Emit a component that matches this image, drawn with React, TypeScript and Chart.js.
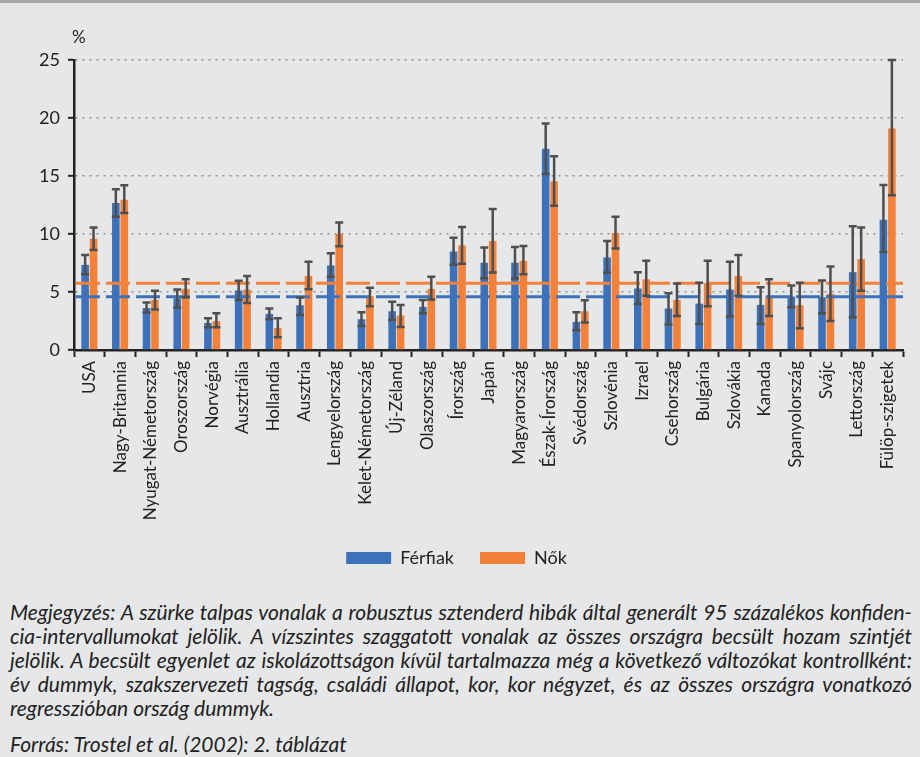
import React, { useEffect, useRef } from 'react';
import { Chart, registerables } from 'chart.js';

Chart.register(...registerables);

const categories = [
  'USA', 'Nagy-Britannia', 'Nyugat-Németország', 'Oroszország', 'Norvégia', 'Ausztrália',
  'Hollandia', 'Ausztria', 'Lengyelország', 'Kelet-Németország', 'Új-Zéland', 'Olaszország',
  'Írország', 'Japán', 'Magyarország', 'Észak-Írország', 'Svédország', 'Szlovénia', 'Izrael',
  'Csehország', 'Bulgária', 'Szlovákia', 'Kanada', 'Spanyolország', 'Svájc', 'Lettország',
  'Fülöp-szigetek',
];

const menValues = [7.34, 12.67, 3.63, 4.46, 2.33, 5.13, 3.11, 3.86, 7.29, 2.65, 3.34, 3.72, 8.5, 7.52, 7.52, 17.34, 2.42, 7.98, 5.3, 3.57, 4.0, 5.21, 3.89, 4.61, 4.55, 6.71, 11.23];
const menLow = [6.54, 11.49, 3.23, 3.66, 1.96, 4.32, 2.65, 3.02, 6.31, 2.07, 2.59, 3.17, 7.34, 6.19, 6.16, 15.18, 1.7, 6.65, 3.97, 2.19, 2.25, 2.88, 2.25, 3.69, 3.17, 2.82, 8.44];
const menHigh = [8.2, 13.85, 4.09, 5.21, 2.74, 5.96, 3.57, 4.52, 8.35, 3.25, 4.15, 4.32, 9.68, 8.84, 8.87, 19.53, 3.25, 9.39, 6.71, 4.9, 5.79, 7.6, 5.41, 5.56, 5.99, 10.66, 14.23];

const womenValues = [9.6, 12.96, 4.32, 5.27, 2.5, 5.21, 1.9, 6.39, 9.99, 4.64, 2.97, 5.27, 9.01, 9.39, 7.69, 14.54, 3.34, 10.08, 6.1, 4.32, 5.76, 6.39, 4.61, 3.86, 4.84, 7.83, 19.1];
const womenLow = [8.61, 11.8, 3.49, 4.55, 1.96, 4.06, 1.09, 5.24, 8.95, 3.77, 1.99, 4.35, 7.43, 6.68, 6.54, 12.44, 2.36, 8.76, 4.67, 2.94, 3.77, 4.67, 2.94, 1.87, 2.51, 5.1, 13.34];
const womenHigh = [10.57, 14.2, 5.1, 6.1, 3.17, 6.39, 2.74, 7.6, 11.0, 5.36, 3.89, 6.31, 10.6, 12.15, 8.96, 16.7, 4.29, 11.49, 7.69, 5.73, 7.69, 8.2, 6.1, 5.79, 7.2, 10.57, 25.0];

const seriesNames = ['Férfiak', 'Nők'];
const allCountryAverages = [4.6, 5.75];

const yMin = 0;
const yMax = 25;
const yStep = 5;
const unitLabel = '%';

const noteLines = [
  'Megjegyzés: A szürke talpas vonalak a robusztus sztenderd hibák által generált 95 százalékos konfiden-',
  'cia-intervallumokat jelölik. A vízszintes szaggatott vonalak az összes országra becsült hozam szintjét',
  'jelölik. A becsült egyenlet az iskolázottságon kívül tartalmazza még a következő változókat kontrollként:',
  'év dummyk, szakszervezeti tagság, családi állapot, kor, kor négyzet, és az összes országra vonatkozó',
];
const noteLast = 'regresszióban ország dummyk.';
const sourceLine = 'Forrás: Trostel et al. (2002): 2. táblázat';

const BLUE = '#3d72bb';
const ORANGE = '#f3813a';
const FONT = 'Lato, "Open Sans", sans-serif';

const lows = [menLow, womenLow];
const highs = [menHigh, womenHigh];
const lineColors = [BLUE, ORANGE];

const overlayPlugin = {
  id: 'overlay',
  afterDatasetsDraw(chart: any) {
    const ctx = chart.ctx;
    const y = chart.scales.y;
    const area = chart.chartArea;
    ctx.save();
    allCountryAverages.forEach((v, i) => {
      const py = y.getPixelForValue(v);
      ctx.beginPath();
      ctx.setLineDash([24, 6]);
      ctx.lineWidth = 3;
      ctx.strokeStyle = lineColors[i];
      ctx.moveTo(area.left + 2, py);
      ctx.lineTo(area.right, py);
      ctx.stroke();
    });
    ctx.setLineDash([]);
    ctx.strokeStyle = '#4f4f4f';
    ctx.lineWidth = 2.5;
    [0, 1].forEach((di) => {
      const meta = chart.getDatasetMeta(di);
      meta.data.forEach((bar: any, j: number) => {
        const x = bar.x;
        const yl = y.getPixelForValue(lows[di][j]);
        const yh = y.getPixelForValue(highs[di][j]);
        ctx.beginPath();
        ctx.moveTo(x, yl);
        ctx.lineTo(x, yh);
        ctx.moveTo(x - 4, yl);
        ctx.lineTo(x + 4, yl);
        ctx.moveTo(x - 4, yh);
        ctx.lineTo(x + 4, yh);
        ctx.stroke();
      });
    });
    ctx.restore();
  },
  afterDraw(chart: any) {
    const ctx = chart.ctx;
    const area = chart.chartArea;
    ctx.save();
    ctx.fillStyle = '#222';
    ctx.font = '17px ' + FONT;
    ctx.textAlign = 'left';
    ctx.textBaseline = 'middle';
    ctx.fillText(unitLabel, area.left - 2, area.top - 22);
    ctx.restore();
  },
};

export default function App() {
  const canvasRef = useRef<HTMLCanvasElement | null>(null);

  useEffect(() => {
    if (!canvasRef.current) return;
    const chart = new Chart(canvasRef.current, {
      type: 'bar',
      data: {
        labels: categories,
        datasets: [
          {
            label: seriesNames[0],
            data: menValues,
            backgroundColor: BLUE,
            borderWidth: 0,
            categoryPercentage: 0.55,
            barPercentage: 0.9,
          },
          {
            label: seriesNames[1],
            data: womenValues,
            backgroundColor: ORANGE,
            borderWidth: 0,
            categoryPercentage: 0.55,
            barPercentage: 0.9,
          },
        ],
      },
      options: {
        responsive: false,
        animation: false,
        devicePixelRatio: 1,
        layout: { padding: { top: 57, left: 10, right: 17, bottom: 16 } },
        plugins: {
          legend: {
            position: 'bottom',
            labels: {
              boxWidth: 45,
              boxHeight: 12,
              padding: 26,
              color: '#222',
              font: { family: FONT, size: 18 },
            },
          },
          tooltip: { enabled: false },
        },
        scales: {
          x: {
            grid: {
              drawOnChartArea: false,
              drawTicks: true,
              tickLength: 7,
              tickColor: '#222',
              tickWidth: 2,
            },
            border: { color: '#222', width: 2.5 },
            ticks: {
              minRotation: 90,
              maxRotation: 90,
              autoSkip: false,
              padding: 4,
              color: '#222',
              font: { family: FONT, size: 17 },
            },
            afterFit(scale: any) {
              scale.height = 173;
            },
          },
          y: {
            min: yMin,
            max: yMax,
            ticks: {
              stepSize: yStep,
              padding: 8,
              color: '#222',
              font: { family: FONT, size: 18 },
            },
            grid: {
              color: '#8f8f8f',
              lineWidth: 1.6,
              tickColor: '#222',
              tickLength: 6,
              tickWidth: 2,
            },
            border: { color: '#222', width: 2.5, dash: [2, 5] },
            afterFit(scale: any) {
              scale.width = 64;
            },
          },
        },
      },
      plugins: [overlayPlugin],
    } as any);
    return () => chart.destroy();
  }, []);

  const noteStyle: React.CSSProperties = {
    textAlign: 'justify',
    textAlignLast: 'justify' as any,
    whiteSpace: 'nowrap',
    height: 24,
    lineHeight: '24px',
  };

  return (
    <div
      style={{
        position: 'absolute',
        left: 0,
        top: 0,
        width: 920,
        height: 757,
        background: '#e6e7e8',
        borderTop: '3px solid #a7a8a9',
        boxSizing: 'border-box',
        overflow: 'hidden',
      }}
    >
      <canvas
        ref={canvasRef}
        width={920}
        height={590}
        style={{ position: 'absolute', left: 0, top: 0, width: 920, height: 590 }}
      />
      <div
        style={{
          position: 'absolute',
          left: 10,
          top: 597,
          width: 902,
          fontFamily: FONT,
          fontStyle: 'italic',
          fontSize: 21,
          color: '#222',
        }}
      >
        {noteLines.map((l, i) => (
          <div key={i} style={noteStyle}>{l}</div>
        ))}
        <div style={{ height: 24, lineHeight: '24px' }}>{noteLast}</div>
        <div style={{ marginTop: 12, height: 24, lineHeight: '24px' }}>{sourceLine}</div>
      </div>
    </div>
  );
}
